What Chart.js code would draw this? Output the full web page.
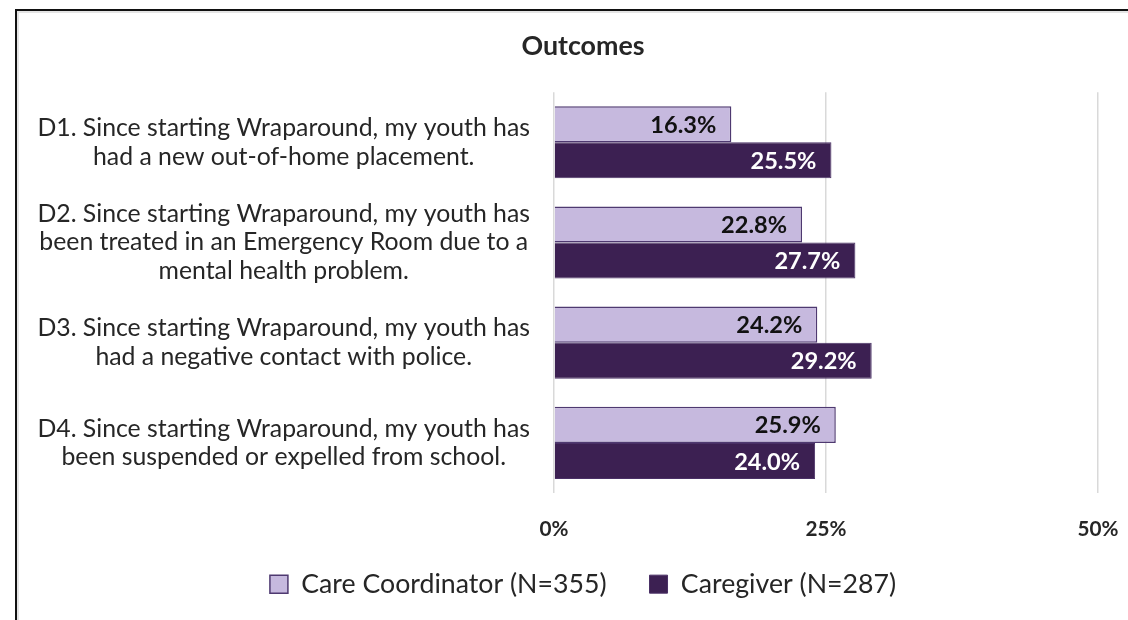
<!DOCTYPE html>
<html>
<head>
<meta charset="utf-8">
<script src="https://cdn.jsdelivr.net/npm/chart.js@4.4.1/dist/chart.umd.min.js"></script>
<style>
  html, body { margin: 0; padding: 0; background: #fff; overflow: hidden; }
  #wrap { position: relative; width: 1128px; height: 620px; }
  #frame { position: absolute; left: 15px; top: 9px; width: 1200px; height: 700px;
           border-left: 2px solid #111; border-top: 2px solid #111;
           box-shadow: inset 2px 2px 0 #e4e4e4; }
  canvas { position: absolute; left: 0; top: 0; }
</style>
</head>
<body>
<div id="wrap">
  <div id="frame"></div>
  <canvas id="chart" width="1128" height="620"></canvas>
</div>
<script>
const categories = [
  ['D1. Since starting Wraparound, my youth has', 'had a new out-of-home placement.'],
  ['D2. Since starting Wraparound, my youth has', 'been treated in an Emergency Room due to a', 'mental health problem.'],
  ['D3. Since starting Wraparound, my youth has', 'had a negative contact with police.'],
  ['D4. Since starting Wraparound, my youth has', 'been suspended or expelled from school.']
];
const seriesNames = ['Care Coordinator (N=355)', 'Caregiver (N=287)'];
const careCoordinator = [16.3, 22.8, 24.2, 25.9];
const caregiver = [25.5, 27.7, 29.2, 24.0];
const xTicks = [0, 25, 50];

const FONT = 'Lato';
const TEXT = '#262626';

// value labels drawn inside the end of each bar
const valueLabels = {
  id: 'valueLabels',
  afterDatasetsDraw(chart) {
    const ctx = chart.ctx;
    chart.data.datasets.forEach((ds, i) => {
      chart.getDatasetMeta(i).data.forEach((bar, j) => {
        ctx.save();
        ctx.font = 'bold 23.6px ' + FONT;
        ctx.fillStyle = ds.labelColor;
        ctx.textAlign = 'right';
        ctx.textBaseline = 'middle';
        ctx.fillText(ds.data[j].toFixed(1) + '%', bar.x - 15, bar.y + 1);
        ctx.restore();
      });
    });
  }
};

new Chart(document.getElementById('chart'), {
  type: 'bar',
  data: {
    labels: categories,
    datasets: [
      { label: seriesNames[0], data: careCoordinator, backgroundColor: '#C6B9DE', borderColor: '#4E3970',
        borderWidth: 1.5, labelColor: '#111', categoryPercentage: 0.72, barPercentage: 1 },
      { label: seriesNames[1], data: caregiver, backgroundColor: '#3C2052', borderColor: '#4A3066',
        borderWidth: 1, labelColor: '#fff', categoryPercentage: 0.72, barPercentage: 1 }
    ]
  },
  options: {
    responsive: false,
    animation: false,
    indexAxis: 'y',
    layout: { padding: { left: 68, right: 30, top: 0, bottom: 12.5 } },
    plugins: {
      title: { display: true, text: 'Outcomes', color: TEXT,
               font: { family: FONT, size: 26.8, weight: 'bold', lineHeight: 1.2 },
               padding: { top: 30, bottom: 30 } },
      legend: { position: 'bottom',
                labels: { boxWidth: 18, boxHeight: 18, padding: 43, color: TEXT,
                          font: { family: FONT, size: 26.7 } } },
      tooltip: { enabled: false }
    },
    scales: {
      x: {
        min: 0, max: 50,
        afterBuildTicks(axis) { axis.ticks = xTicks.map(v => ({ value: v })); },
        ticks: { callback: v => v + '%', color: TEXT, padding: 9,
                 font: { family: FONT, size: 20.7, weight: 'bold', lineHeight: 1.2 } },
        grid: { color: '#D9D9D9', lineWidth: 1.5, drawTicks: true, tickLength: 15, tickColor: 'rgba(0,0,0,0)' },
        border: { display: false },
        afterFit(axis) {
          axis.height = 34.8;
          axis._computeLabelArea = () => null;
        }
      },
      y: {
        grid: { display: false, drawTicks: false },
        border: { display: false },
        ticks: { crossAlign: 'center', padding: 24, color: TEXT, autoSkip: false,
                 font: { family: FONT, size: 24.8, lineHeight: 1.15 } },
        afterFit(axis) {
          axis.width = 486;
          // let the wrapped category labels extend past the axis box on the left
          axis._computeLabelArea = () => null;
        }
      }
    }
  },
  plugins: [valueLabels]
});
</script>
</body>
</html>
